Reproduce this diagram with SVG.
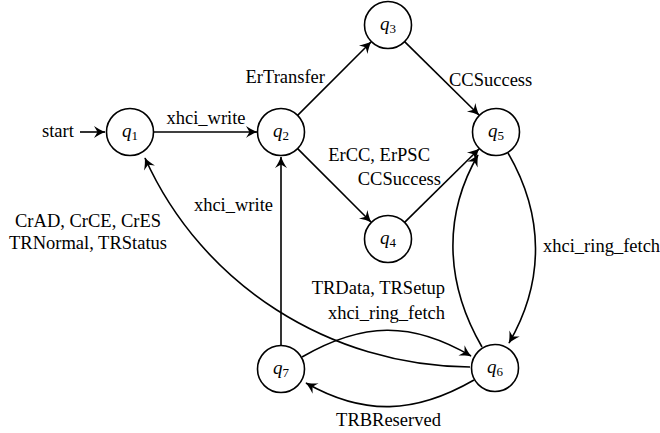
<svg xmlns="http://www.w3.org/2000/svg" width="660" height="433" viewBox="0 0 660 433">
<style>
  .node circle { fill: #fff; stroke: #000; stroke-width: 1.6; }
  .node text { font-family: "Liberation Serif", "Times New Roman", serif; font-size: 19px; text-anchor: middle; }
  .node .q { font-style: italic; }
  .node .s { font-size: 13px; }
  .edges path { fill: none; stroke: #000; stroke-width: 1.6; marker-end: url(#arr); }
  .lbl { font-family: "Liberation Serif", "Times New Roman", serif; font-size: 18.5px; fill: #000; }
</style>
<defs>
  <marker id="arr" viewBox="-12 -7 13 14" refX="0" refY="0" markerWidth="13" markerHeight="14" markerUnits="userSpaceOnUse" orient="auto">
    <path d="M0.6,0 C-3,-1.2 -7.5,-3.5 -11,-6 L-7.5,0 L-11,6 C-7.5,3.5 -3,1.2 0.6,0 Z" fill="#000"/>
  </marker>
</defs>
<rect width="660" height="433" fill="#fff"/>

<g class="edges" id="connectors">
  <path d="M80,132 L105,132"/>
  <path d="M153.5,132 L257,132"/>
  <path d="M297.6,115.4 L371,42"/>
  <path d="M404.6,41.6 L479,115"/>
  <path d="M297.6,148.6 L371,222"/>
  <path d="M404.6,222.4 L479,149"/>
  <path d="M281,345.5 L281,157"/>
  <path d="M470,367 C330,366 202,285 145,158"/>
  <path d="M508,153 C544,215 545,281 509,343"/>
  <path d="M482,347 C446,285 442,217 478,155"/>
  <path d="M302,357 C362.6,322 411.4,321 471,356"/>
  <path d="M474,380 C415,414 364,416 306,383"/>
</g>

<g id="labels">
  <text class="lbl" x="42" y="137">start</text>
  <text class="lbl" x="206" y="124" text-anchor="middle">xhci_write</text>
  <text class="lbl" x="325" y="83" text-anchor="end">ErTransfer</text>
  <text class="lbl" x="449" y="86">CCSuccess</text>
  <text class="lbl" x="430" y="161" text-anchor="end">ErCC, ErPSC</text>
  <text class="lbl" x="441" y="185" text-anchor="end">CCSuccess</text>
  <text class="lbl" x="543" y="252">xhci_ring_fetch</text>
  <text class="lbl" x="273" y="211" text-anchor="end">xhci_write</text>
  <text class="lbl" x="88" y="227" text-anchor="middle">CrAD, CrCE, CrES</text>
  <text class="lbl" x="88" y="249" text-anchor="middle">TRNormal, TRStatus</text>
  <text class="lbl" x="445" y="294" text-anchor="end">TRData, TRSetup</text>
  <text class="lbl" x="445" y="319" text-anchor="end">xhci_ring_fetch</text>
  <text class="lbl" x="388.5" y="426" text-anchor="middle">TRBReserved</text>
</g>

<g class="node" id="q1"><circle cx="130" cy="132" r="23.5"/><text x="130" y="137"><tspan class="q">q</tspan><tspan class="s" dy="2.5">1</tspan></text></g>
<g class="node" id="q2"><circle cx="281" cy="132" r="23.5"/><text x="281" y="137"><tspan class="q">q</tspan><tspan class="s" dy="2.5">2</tspan></text></g>
<g class="node" id="q3"><circle cx="388" cy="25" r="23.5"/><text x="388" y="30"><tspan class="q">q</tspan><tspan class="s" dy="2.5">3</tspan></text></g>
<g class="node" id="q4"><circle cx="388" cy="239" r="23.5"/><text x="388" y="244"><tspan class="q">q</tspan><tspan class="s" dy="2.5">4</tspan></text></g>
<g class="node" id="q5"><circle cx="496" cy="132" r="23.5"/><text x="496" y="137"><tspan class="q">q</tspan><tspan class="s" dy="2.5">5</tspan></text></g>
<g class="node" id="q6"><circle cx="495" cy="368" r="23.5"/><text x="495" y="373"><tspan class="q">q</tspan><tspan class="s" dy="2.5">6</tspan></text></g>
<g class="node" id="q7"><circle cx="281" cy="369" r="23.5"/><text x="281" y="374"><tspan class="q">q</tspan><tspan class="s" dy="2.5">7</tspan></text></g>
</svg>
